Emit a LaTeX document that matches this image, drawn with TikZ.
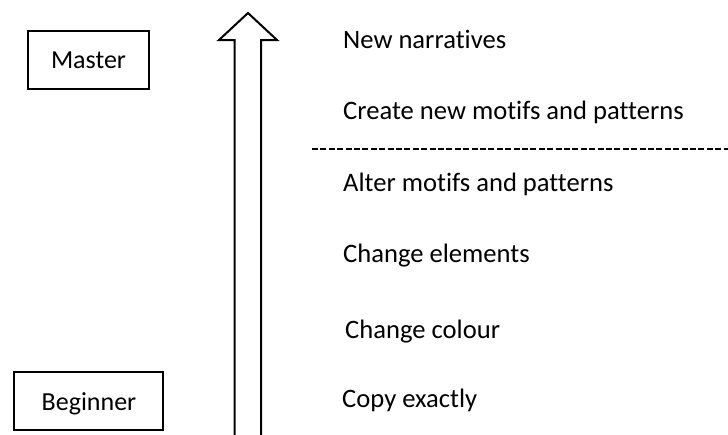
\documentclass[tikz,border=0pt]{standalone}
\usepackage{fontspec}
\setmainfont{Carlito}[Ligatures=NoCommon]
\begin{document}
\begin{tikzpicture}[x=1pt,y=-1pt,
  lbl/.style={anchor=base west,inner sep=0pt,font=\fontsize{26.6}{30}\selectfont},
  levelbox/.style={draw,line width=2pt,inner sep=0pt},
  boxtext/.style={anchor=base,inner sep=0pt,font=\fontsize{26}{30}\selectfont},
  sep/.style={line width=2pt,dash pattern=on 6pt off 2.4pt}]
\useasboundingbox (0,0) rectangle (728,434);
\begin{scope}
\clip (0,0) rectangle (728,434);
% boxes
\node[levelbox,minimum width=121pt,minimum height=58pt] (master) at (88.5,60) {};
\node[boxtext] (mastert) at (88.5,68.3) {Master};
\node[levelbox,minimum width=149pt,minimum height=58pt] (beginner) at (88.5,401) {};
\node[boxtext] (beginnert) at (89,410) {Beginner};
% block arrow
\draw[line width=2pt,line join=miter] (234.7,440) -- (234.7,40) -- (219,40) -- (248,13) -- (277,40) -- (261,40) -- (261,440);
% labels
\node[lbl] (l1) at (343,48) {New narratives};
\node[lbl] (l2) at (343,119.5) {Create new motifs and patterns};
\node[lbl] (l3) at (343,191) {Alter motifs and patterns};
\node[lbl] (l4) at (343,262) {Change elements};
\node[lbl] (l5) at (345,338) {Change colour};
\node[lbl] (l6) at (342,407) {Copy exactly};
% separator
\coordinate (s1) at (312,149);
\coordinate (s2) at (730,149);
\draw[sep] (s1) -- (s2);
\end{scope}
\end{tikzpicture}
\end{document}
